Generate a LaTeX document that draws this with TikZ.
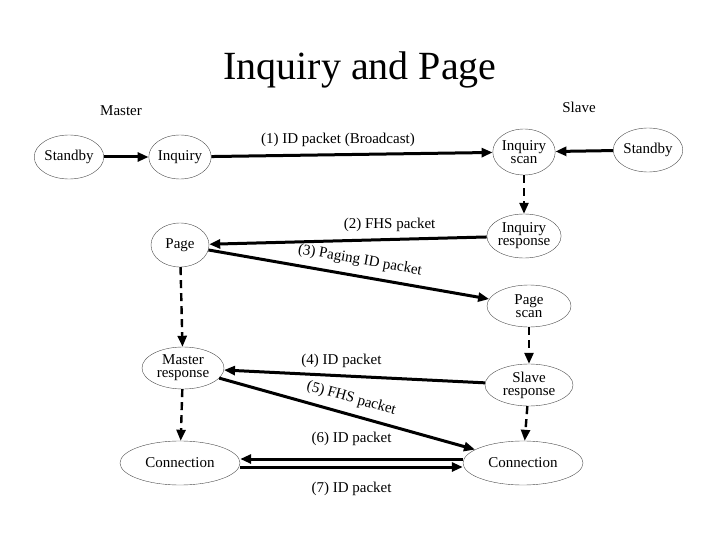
\documentclass[tikz,border=0pt]{standalone}
\usepackage{fontspec}
\setmainfont{Liberation Serif}
\usetikzlibrary{arrows.meta,shapes.geometric}

\begin{document}
\begin{tikzpicture}[%
        x = 1pt, y = -1pt,
        > = {Triangle[length=11pt,width=9pt]},
        font = \fontsize{15}{15}\selectfont,
        state/.style = {draw, thin, gray!60!black, ellipse, align=center,
            inner sep=0pt, text=black},
        msg/.style = {->, line width=3pt},
        next state/.style = {->, line width=2.4pt, dash pattern=on 8pt off 5pt}
    ]

        % Fix the page to the size of the reference.
        \useasboundingbox (0, 0) rectangle (720, 540);

        % Title and the two sides.
        \node (title) at (360, 70) {\fontsize{40}{40}\selectfont Inquiry and Page};
        \node (master) at (121, 111) {Master};
        \node (slave) at (579, 107) {Slave};

        % Master side states.
        \node[state, minimum width=58, minimum height=44] (mstandby) at (69, 157) {Standby};
        \node[state, minimum width=58, minimum height=44] (inquiry) at (180, 157) {Inquiry};
        \node[state, minimum width=58, minimum height=44] (page) at (180, 245) {Page};
        \node[state, minimum width=82, minimum height=42] (mresp) at (183, 368) {Master\\[-2pt]response};
        \node[state, minimum width=120, minimum height=44] (mconn) at (180, 463) {Connection};

        % Slave side states.
        \node[state, minimum width=58, minimum height=44] (sstandby) at (648, 150) {Standby};
        \node[state, minimum width=58, minimum height=46] (iscan) at (524, 152) {Inquiry\\[-2pt]scan};
        \node[state, minimum width=58, minimum height=44] (iresp) at (524, 236) {Inquiry\\[-2pt]response};
        \node[state, minimum width=84, minimum height=42] (pscan) at (529, 306) {Page\\[-2pt]scan};
        \node[state, minimum width=88, minimum height=42] (sresp) at (529, 385) {Slave\\[-2pt]response};
        \node[state, minimum width=120, minimum height=44] (sconn) at (523, 463) {Connection};

        % Moves inside each side.
        \draw[msg] (mstandby) -- (inquiry);
        \draw[msg] (sstandby) -- (iscan);
        \draw[next state] (iscan) -- (iresp);
        \draw[next state] (page) -- (mresp);
        \draw[next state] (mresp) -- (mconn);
        \draw[next state] (pscan) -- (sresp);
        \draw[next state] (sresp) -- (sconn);

        % Packets between the two sides.
        \draw[msg] (inquiry) -- (iscan) node[pos=0.45, above=3pt] {(1) ID packet (Broadcast)};
        \draw[msg] (iresp) -- (page) node[pos=0.35, above=3pt] {(2) FHS packet};
        \draw[msg] (page) -- (pscan) node[pos=0.53, above=4pt, sloped] {(3) Paging ID packet};
        \draw[msg] (sresp) -- (mresp) node[pos=0.55, above=3pt] {(4) ID packet};
        \draw[msg] (mresp) -- (sconn) node[pos=0.5, above=4pt, sloped] {(5) FHS packet};
        \draw[msg] ([yshift=4]sconn.west) -- ([yshift=4]mconn.east) node[midway, above=8pt] {(6) ID packet};
        \draw[msg] ([yshift=-4]mconn.east) -- ([yshift=-4]sconn.west) node[midway, below=10pt] {(7) ID packet};
    \end{tikzpicture}
\end{document}
